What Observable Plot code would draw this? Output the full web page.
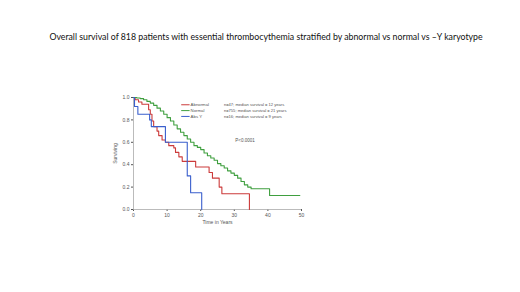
<!DOCTYPE html>
<html>
<head>
<meta charset="utf-8">
<script src="https://cdn.jsdelivr.net/npm/d3@7"></script>
<script src="https://cdn.jsdelivr.net/npm/@observablehq/plot@0.6"></script>
<style>
  html, body { margin: 0; padding: 0; background: #fff; }
  #wrap { position: relative; width: 520px; height: 292px; overflow: hidden; }
  #title { position: absolute; left: 6px; top: 31px; width: 520px; text-align: center;
           font-family: Lato, "Open Sans", sans-serif; font-size: 8.75px; color: #111; white-space: nowrap; }
  #chart { position: absolute; left: 0; top: 0; }
</style>
</head>
<body>
<div id="wrap">
  <div id="chart"></div>
  <div id="title">Overall survival of 818 patients with essential thrombocythemia stratified by abnormal vs normal vs –Y karyotype</div>
</div>
<script>
// ---- data ----
const seriesNames = ["Abnormal", "Normal", "Abs Y"];
const seriesColors = ["#cc3b3b", "#3f9f3f", "#3a5fcd"];
const seriesNotes = [
  "n=47; median survival = 12 years",
  "n=755; median survival = 21 years",
  "n=16; median survival = 9 years"
];

const abnormalTime = [0, 0.5, 1.5, 2.5, 4.5, 5, 5.5, 6, 7, 7.5, 8.5, 9.5, 10.5, 12, 12.5, 13.5, 14.5, 18.5, 22.5, 23.5, 25.5, 26.3, 34.5];
const abnormalSurv = [1.0, 0.98, 0.96, 0.94, 0.89, 0.85, 0.79, 0.74, 0.70, 0.66, 0.62, 0.60, 0.57, 0.55, 0.51, 0.47, 0.43, 0.38, 0.33, 0.28, 0.20, 0.14, 0.0];

const normalTime = [0, 1, 2, 3, 4, 5, 6, 7, 8, 9, 10, 11, 12, 13, 14, 15, 16, 17, 18, 19, 20, 21, 22, 23, 24, 25, 26, 27, 28, 29, 30, 31, 32, 33, 34, 35, 40.5, 49.5];
const normalSurv = [1.0, 0.995, 0.99, 0.98, 0.965, 0.95, 0.93, 0.905, 0.88, 0.85, 0.82, 0.79, 0.755, 0.72, 0.69, 0.66, 0.63, 0.60, 0.57, 0.555, 0.535, 0.505, 0.48, 0.46, 0.44, 0.41, 0.39, 0.37, 0.345, 0.325, 0.305, 0.28, 0.25, 0.22, 0.20, 0.185, 0.125, 0.125];

const absYTime = [0, 0.3, 1.3, 4.8, 5.3, 9.5, 16, 17, 20.3];
const absYSurv = [1.0, 0.92, 0.85, 0.80, 0.74, 0.60, 0.30, 0.15, 0.0];

const xTicks = [0, 10, 20, 30, 40, 50];
const yTicks = [0.0, 0.2, 0.4, 0.6, 0.8, 1.0];
const pValue = "P<0.0001";

// ---- build tables ----
const curves = [
  [abnormalTime, abnormalSurv],
  [normalTime, normalSurv],
  [absYTime, absYSurv]
].flatMap(([t, s], k) => t.map((v, i) => ({group: seriesNames[k], time: v, surv: s[i]})));

// legend layout (data coordinates)
const legX1 = 14.2, legX2 = 16.7, legLabelX = 17.0, noteX = 26.9, legTop = 0.935, legStep = 0.052;
const legend = seriesNames.map((name, i) => ({name, note: seriesNotes[i], y: legTop - i * legStep}));

const chart = Plot.plot({
  width: 520,
  height: 292,
  marginLeft: 133,
  marginRight: 219,
  marginTop: 97,
  marginBottom: 83,
  style: {fontFamily: "'Liberation Sans', Arial, sans-serif", fontSize: "5px", color: "#555", background: "transparent"},
  x: {domain: [0, 50], ticks: xTicks, tickSize: 2, tickPadding: 2, label: "Time in Years", labelAnchor: "center", labelOffset: 14, labelArrow: "none"},
  y: {domain: [0, 1], ticks: yTicks, tickSize: 2, tickPadding: 2, tickFormat: d3.format(".1f"), label: "Surviving", labelAnchor: "center", labelOffset: 20, labelArrow: "none"},
  color: {domain: seriesNames, range: seriesColors},
  marks: [
    Plot.ruleX([0], {stroke: "#aaa", strokeWidth: 0.8}),
    Plot.ruleY([0], {stroke: "#aaa", strokeWidth: 0.8}),
    Plot.line(curves, {x: "time", y: "surv", z: "group", stroke: "group", curve: "step-after", strokeWidth: 1.1}),
    Plot.link(legend, {x1: () => legX1, x2: () => legX2, y1: "y", y2: "y", stroke: "name", strokeWidth: 1}),
    Plot.text(legend, {x: () => legLabelX, y: "y", text: "name", textAnchor: "start", fontSize: 4.3, fill: "#555"}),
    Plot.text(legend, {x: () => noteX, y: "y", text: "note", textAnchor: "start", fontSize: 4.1, fill: "#555"}),
    Plot.text([pValue], {x: 30.3, y: 0.62, text: d => d, textAnchor: "start", fontSize: 4.5, fill: "#555"})
  ]
});
document.getElementById("chart").appendChild(chart);
</script>
</body>
</html>
